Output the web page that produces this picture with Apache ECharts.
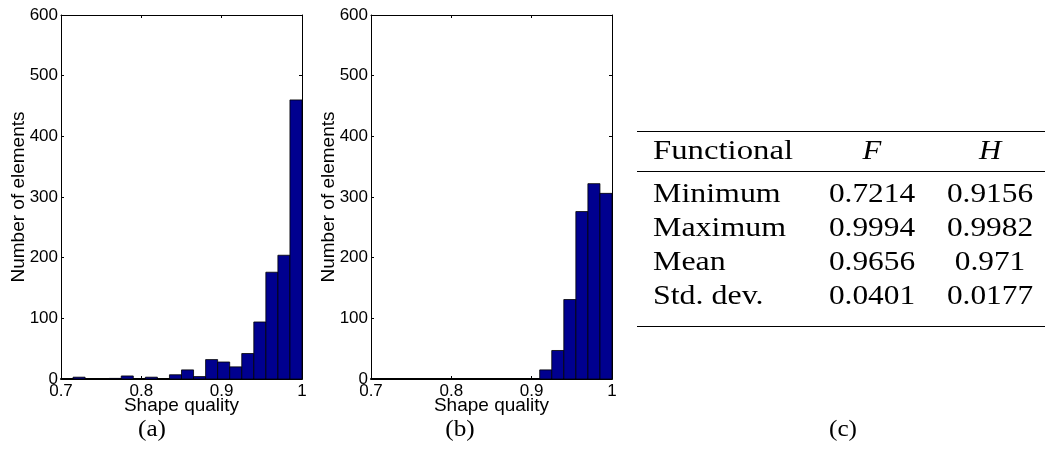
<!DOCTYPE html>
<html>
<head>
<meta charset="utf-8">
<script src="https://cdn.jsdelivr.net/npm/echarts@6/dist/echarts.min.js"></script>
<style>
html,body{margin:0;padding:0;background:#fff;}
#c{width:1046px;height:463px;}
</style>
</head>
<body>
<div id="c"></div>
<script>
// ---- data ----
var binEdges = [0.700,0.715,0.730,0.745,0.760,0.775,0.790,0.805,0.820,0.835,0.850,0.865,0.880,0.895,0.910,0.925,0.940,0.955,0.970,0.985,1.000];
var countsF = [0,3,0,0,1,5,0,3,0,7,15,4,32,28,20,42,94,176,204,460];
var countsH = [0,0,0,0,0,0,0,0,0,0,0,0,0,0,15,47,131,276,322,306];
var xTickLabels = ['0.7','0.8','0.9','1'];
var yTickLabels = ['0','100','200','300','400','500','600'];
var xName = 'Shape quality';
var yName = 'Number of elements';
var captions = ['(a)','(b)','(c)'];
var tableHeader = ['Functional','F','H'];
var tableRowNames = ['Minimum','Maximum','Mean','Std. dev.'];
var tableF = ['0.7214','0.9994','0.9656','0.0401'];
var tableH = ['0.9156','0.9982','0.971','0.0177'];

function binData(counts){
  var d = [];
  for (var i = 0; i < counts.length; i++) d.push([binEdges[i], binEdges[i+1], counts[i]]);
  return d;
}

var sans = 'Liberation Sans';
var serif = 'Liberation Serif';

function xAx(gi, pos){
  var top = pos === 'top';
  return {
    type:'value', gridIndex:gi, position:pos, min:0.7, max:1.0, interval:0.1,
    axisLine:{show:true, onZero:false, lineStyle:{color:'#000', width: top?1:2}},
    axisTick:{show:true, inside:true, length:3, lineStyle:{color:'#000', width:1}},
    axisLabel:{show:!top, showMinLabel:true, showMaxLabel:true, margin:4, color:'#000',
      fontFamily:sans, fontSize:17,
      formatter:function(v){ var i = Math.round((v-0.7)/0.1); return xTickLabels[i]; }},
    splitLine:{show:false},
    name: top ? '' : xName, nameLocation:'middle', nameGap:17, nameMoveOverlap:false,
    nameTextStyle:{fontFamily:sans, fontSize:19, color:'#000'}
  };
}
function yAx(gi, pos){
  var right = pos === 'right';
  return {
    type:'value', gridIndex:gi, position:pos, min:0, max:600, interval:100,
    axisLine:{show:true, onZero:false, lineStyle:{color:'#000', width:1}},
    axisTick:{show:true, inside:true, length:3, lineStyle:{color:'#000', width:1}},
    axisLabel:{show:!right, showMinLabel:true, showMaxLabel:true, margin:3, color:'#000',
      fontFamily:sans, fontSize:17,
      formatter:function(v){ return yTickLabels[Math.round(v/100)]; }},
    splitLine:{show:false},
    name: right ? '' : yName, nameLocation:'middle', nameGap:33, nameMoveOverlap:false,
    nameTextStyle:{fontFamily:sans, fontSize:19, color:'#000'}
  };
}

function histSeries(xi, yi, counts){
  return {
    type:'custom', xAxisIndex:xi, yAxisIndex:yi, z:3,
    encode:{x:[0,1], y:2},
    data: binData(counts),
    renderItem:function(params, api){
      var p0 = api.coord([api.value(0), api.value(2)]);
      var p1 = api.coord([api.value(1), 0]);
      return {type:'rect',
        shape:{x:p0[0], y:p0[1], width:p1[0]-p0[0], height:p1[1]-p0[1]},
        style:{fill:'#00008F', stroke:'#000', lineWidth:0.8}};
    }
  };
}

// table graphics
var g = [];
var ruleL = 637, ruleR = 1045;
function rule(y, w){ g.push({type:'line', shape:{x1:ruleL, y1:y, x2:ruleR, y2:y}, style:{stroke:'#000', lineWidth:w}}); }
rule(131.5, 1); rule(171.5, 1); rule(326.5, 1);
var colFx = 872, colHx = 990, col0x = 653;
var tfs = 28;
function txt(s, x, y, align, italic, size, sx){
  g.push({type:'text', x:x, y:y, scaleX:sx, style:{text:s, fill:'#000', font:(italic?'italic ':'')+size+'px "'+serif+'"', textAlign:align, textVerticalAlign:'middle'}});
}
txt(tableHeader[0], col0x, 152, 'left', false, tfs, 1.17);
txt(tableHeader[1], colFx, 152, 'center', true, tfs, 1.1);
txt(tableHeader[2], colHx, 152, 'center', true, tfs, 1.1);
var rowY = [195, 229, 263, 297];
for (var r = 0; r < tableRowNames.length; r++){
  txt(tableRowNames[r], col0x, rowY[r], 'left', false, tfs, 1.14);
  txt(tableF[r], colFx, rowY[r], 'center', false, tfs, 1.12);
  txt(tableH[r], colHx, rowY[r], 'center', false, tfs, 1.12);
}
var capX = [152, 460, 843];
for (var k = 0; k < captions.length; k++) txt(captions[k], capX[k], 430, 'center', false, 24, 1.05);

var option = {
  animation:false,
  backgroundColor:'#fff',
  grid:[
    {left:61, top:15, width:241, height:364, show:false},
    {left:371, top:15, width:241, height:364, show:false}
  ],
  xAxis:[xAx(0,'bottom'), xAx(0,'top'), xAx(1,'bottom'), xAx(1,'top')],
  yAxis:[yAx(0,'left'), yAx(0,'right'), yAx(1,'left'), yAx(1,'right')],
  series:[histSeries(0,0,countsF), histSeries(2,2,countsH)],
  graphic:g
};
var chart = echarts.init(document.getElementById('c'), null, {renderer:'canvas'});
chart.setOption(option);
</script>
</body>
</html>
